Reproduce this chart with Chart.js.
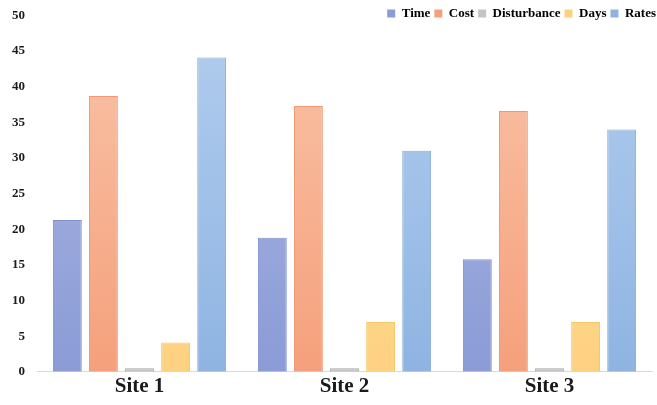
<!DOCTYPE html>
<html>
<head>
<meta charset="utf-8">
<script src="https://cdn.jsdelivr.net/npm/chart.js@4.4.0/dist/chart.umd.min.js"></script>
<style>
  html, body { margin: 0; padding: 0; background: #ffffff; }
  #wrap { width: 657px; height: 405px; }
</style>
</head>
<body>
<div id="wrap"><canvas id="myChart"></canvas></div>
<script>
// categorias y series
const sites = ['Site 1', 'Site 2', 'Site 3'];
const timeVals = [21.3, 18.8, 15.8];
const costVals = [38.7, 37.3, 36.6];
const disturbanceVals = [0.5, 0.5, 0.5];
const daysVals = [4.1, 7.0, 7.0];
const ratesVals = [44.1, 31.0, 34.0];
const yTicks = [0, 5, 10, 15, 20, 25, 30, 35, 40, 45, 50];

// colores: abajo, arriba, borde
const colores = {
    time: ['#8a9bd6', '#aeb8e3', '#7f90cf'],
    cost: ['#f5a07c', '#f9c4a8', '#ef9a74'],
    disturbance: ['#c4c4c4', '#d0d0d0', '#a8a8a8'],
    days: ['#fdd180', '#fee3a6', '#f5c86a'],
    rates: ['#8fb4e2', '#b2cdee', '#86acdc']
};
const listaColores = [colores.time, colores.cost, colores.disturbance, colores.days, colores.rates];

// degradado vertical para cada barra
function degradado(c) {
    return function (ctx) {
        const area = ctx.chart.chartArea;
        if (!area) return c[0];
        const g = ctx.chart.ctx.createLinearGradient(0, area.bottom, 0, area.top);
        g.addColorStop(0, c[0]);
        g.addColorStop(1, c[1]);
        return g;
    };
}

function serie(nombre, datos, c) {
    return {
        label: nombre,
        data: datos,
        backgroundColor: degradado(c),
        borderColor: c[2],
        borderWidth: 1,
        barPercentage: 0.8,
        categoryPercentage: 0.88
    };
}

// la leyenda va arriba a la derecha, a la altura del 50 (encima del area)
const moverLeyenda = {
    id: 'moverLeyenda',
    afterLayout: function (chart) {
        const l = chart.legend;
        if (!l) return;
        const h = l.bottom - l.top;
        l.top = 3;
        l.bottom = 3 + h;
        l.left += 8;
        l.right += 8;
    }
};

const fuente = "'Liberation Serif', 'Times New Roman', serif";

new Chart(document.getElementById('myChart'), {
    type: 'bar',
    data: {
        labels: sites,
        datasets: [
            serie('Time', timeVals, colores.time),
            serie('Cost', costVals, colores.cost),
            serie('Disturbance', disturbanceVals, colores.disturbance),
            serie('Days', daysVals, colores.days),
            serie('Rates', ratesVals, colores.rates)
        ]
    },
    plugins: [moverLeyenda],
    options: {
        responsive: true,
        maintainAspectRatio: false,
        animation: false,
        layout: { padding: { left: 0, right: 5, top: -11.6, bottom: 4 } },
        plugins: {
            tooltip: { enabled: false },
            legend: {
                position: 'top',
                align: 'end',
                labels: {
                    boxWidth: 8,
                    boxHeight: 8,
                    padding: 4,
                    color: '#1a1a1a',
                    font: { family: fuente, size: 13, weight: 'bold' },
                    generateLabels: function (chart) {
                        return chart.data.datasets.map(function (ds, i) {
                            const c = listaColores[i];
                            return {
                                text: ds.label,
                                fillStyle: c[0],
                                strokeStyle: c[0],
                                lineWidth: 0,
                                datasetIndex: i
                            };
                        });
                    }
                }
            }
        },
        scales: {
            x: {
                grid: { display: false, drawTicks: false },
                border: { display: true, color: '#d9d9d9', width: 1 },
                ticks: {
                    color: '#1a1a1a',
                    padding: 2,
                    font: { family: fuente, size: 21, weight: 'bold' }
                }
            },
            y: {
                min: 0,
                max: 50,
                afterBuildTicks: function (axis) {
                    axis.ticks = yTicks.map(function (v) { return { value: v }; });
                },
                afterFit: function (axis) {
                    axis.paddingTop = 0;
                    axis.paddingBottom = 0;
                },
                grid: { display: false, drawTicks: false },
                border: { display: false },
                ticks: {
                    color: '#1a1a1a',
                    padding: 12,
                    font: { family: fuente, size: 13, weight: 'bold' }
                }
            }
        }
    }
});
</script>
</body>
</html>
